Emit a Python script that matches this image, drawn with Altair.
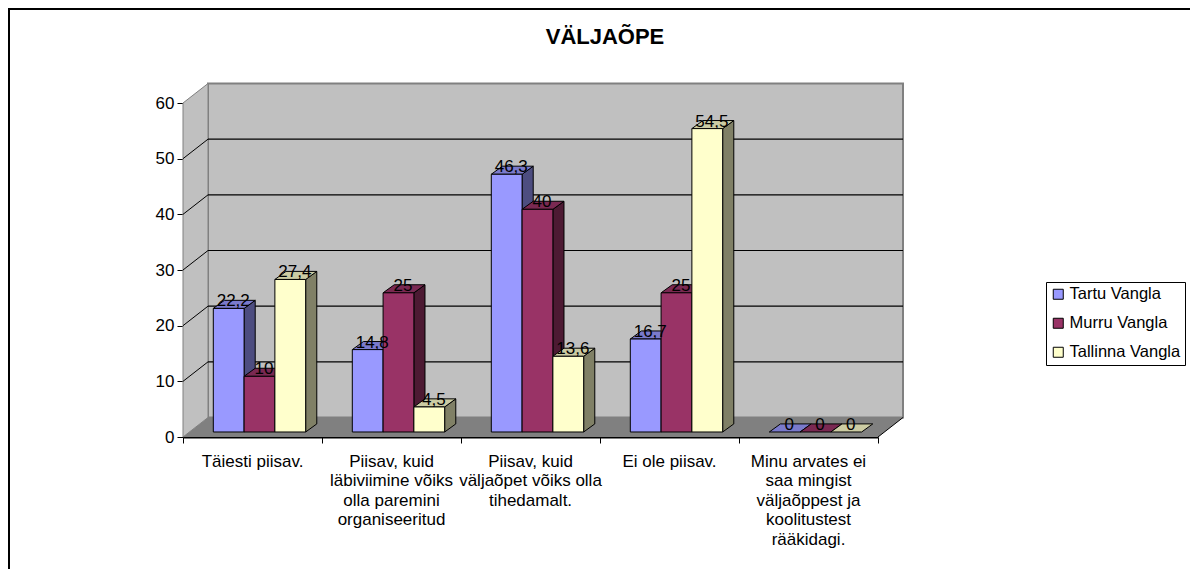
import altair as alt
import pandas as pd

categories = ["Täiesti piisav.",
              "Piisav, kuid\nläbiviimine võiks\nolla paremini\norganiseeritud",
              "Piisav, kuid\nväljaõpet võiks olla\ntihedamalt.",
              "Ei ole piisav.",
              "Minu arvates ei\nsaa mingist\nväljaõppest ja\nkoolitustest\nrääkidagi."]
series = ["Tartu Vangla", "Murru Vangla", "Tallinna Vangla"]
tartu = [22.2, 14.8, 46.3, 16.7, 0]
murru = [10, 25, 40, 25, 0]
tallinn = [27.4, 4.5, 13.6, 54.5, 0]
y_ticks = [0, 10, 20, 30, 40, 50, 60]
front_colors = ["#9999FF", "#993366", "#FFFFCC"]
side_colors = ["#4D4D80", "#4D1A33", "#808066"]
top_colors = ["#7A7ACC", "#7A2952", "#CCCCA3"]

W, H = 1182, 561
FONT = "Liberation Sans"
PX_X = [175, 870]
PX_Y = [429, 95]
wall_dx, wall_dy = 25 / 139, 3.5
bar_base = 0.9
bar_start, bar_w = 0.218, 0.2215
bar_dx, bar_dy = 0.08, 1.45

xs = alt.Scale(domain=[0, 5], range=PX_X)
ys = alt.Scale(domain=[0, 60], range=PX_Y)
x_axis = alt.Axis(title=None, values=[0, 1, 2, 3, 4, 5], labels=False, orient="bottom",
                  offset=429 - H, tickSize=6, tickColor="black", domainColor="black",
                  domainWidth=2, tickWidth=1, grid=False)
y_axis = alt.Axis(title=None, values=y_ticks, orient="left", offset=-175, tickSize=6,
                  tickColor="black", domainColor="black", domainWidth=1, tickWidth=1,
                  labelFont=FONT, labelFontSize=17, labelColor="black",
                  labelPadding=3, grid=False, format="d")
X = lambda f="x": alt.X(f"{f}:Q", scale=xs, axis=x_axis, title=None)
Y = lambda f="y": alt.Y(f"{f}:Q", scale=ys, axis=y_axis, title=None)

fronts, sides, tops, labels = [], [], [], []
for s_i, (s, vals) in enumerate(zip(series, [tartu, murru, tallinn])):
    for c_i, v in enumerate(vals):
        x0 = c_i + bar_start + s_i * bar_w
        x1 = x0 + bar_w
        lo = bar_base
        hi = bar_base + v
        pid = f"{s_i}-{c_i}"
        fronts.append(dict(series=s, x=x0, x2=x1, y=lo, y2=hi))
        if v > 0:
            sides += [dict(id=pid, col=side_colors[s_i], x=x1, y=lo, y2=hi),
                      dict(id=pid, col=side_colors[s_i], x=x1 + bar_dx, y=lo + bar_dy, y2=hi + bar_dy)]
        tops += [dict(id=pid, col=top_colors[s_i], y=hi, x=x0, x2=x1),
                 dict(id=pid, col=top_colors[s_i], y=hi + bar_dy, x=x0 + bar_dx, x2=x1 + bar_dx)]
        labels.append(dict(x=(x0 + x1 + bar_dx) / 2, y=hi + bar_dy, t=str(v).replace(".", ",")))

df_front = pd.DataFrame(fronts)
df_front = df_front[df_front.y2 > df_front.y + 0.01]
df_side, df_top, df_lab = pd.DataFrame(sides), pd.DataFrame(tops), pd.DataFrame(labels)

back = alt.Chart(pd.DataFrame([dict(x=wall_dx, x2=5 + wall_dx, y=wall_dy, y2=60 + wall_dy)])).mark_rect(
    fill="#C0C0C0", stroke="#808080", strokeWidth=2).encode(X(), x2="x2:Q", y=Y(), y2="y2:Q")
left = alt.Chart(pd.DataFrame([dict(x=0, y=0, y2=60), dict(x=wall_dx, y=wall_dy, y2=60 + wall_dy)])).mark_area(
    fill="#C0C0C0", stroke="#808080", strokeWidth=1, orient="vertical").encode(X(), y=Y(), y2="y2:Q")
floor = alt.Chart(pd.DataFrame([dict(y=0, x=0, x2=5), dict(y=wall_dy, x=wall_dx, x2=5 + wall_dx)])).mark_area(
    fill="#808080", orient="horizontal").encode(X(), x2="x2:Q", y=Y())

gd = pd.DataFrame([dict(x=wall_dx, x2=5 + wall_dx, y=v + wall_dy) for v in y_ticks[1:-1]])
grid = alt.Chart(gd).mark_rule(color="black", strokeWidth=1.2).encode(X(), x2="x2:Q", y=Y())
gdiag = pd.DataFrame([r for v in y_ticks for r in
                      (dict(id=v, x=0, y=v), dict(id=v, x=wall_dx, y=v + wall_dy))])
diag = alt.Chart(gdiag[gdiag.id.between(1, 59)]).mark_line(color="black", strokeWidth=1).encode(X(), Y(), detail="id:N")
fr_line = pd.DataFrame([dict(id=0, x=5, y=0), dict(id=0, x=5 + wall_dx, y=wall_dy)])
floor_edge = alt.Chart(fr_line).mark_line(color="black", strokeWidth=1).encode(X(), Y(), detail="id:N")

side_l = alt.Chart(df_side).mark_area(stroke="black", strokeWidth=1, orient="vertical").encode(
    X(), y=Y(), y2="y2:Q", detail="id:N", fill=alt.Fill("col:N", scale=None))
top_l = alt.Chart(df_top).mark_area(stroke="black", strokeWidth=1, orient="horizontal").encode(
    X(), x2="x2:Q", y=Y(), detail="id:N", fill=alt.Fill("col:N", scale=None))
front_l = alt.Chart(df_front).mark_rect(stroke="black", strokeWidth=1).encode(
    X(), x2="x2:Q", y=Y(), y2="y2:Q",
    fill=alt.Fill("series:N", scale=alt.Scale(domain=series, range=front_colors),
                  legend=alt.Legend(title=None, orient="none", legendX=1038, legendY=274,
                                    fillColor="white", strokeColor="black", padding=4,
                                    symbolType="square", symbolSize=100, symbolStrokeColor="black",
                                    symbolStrokeWidth=1, symbolOpacity=1, labelFontSize=16.5,
                                    labelFont=FONT, labelColor="black", rowPadding=12,
                                    labelOffset=3, values=series)))

lab_l = alt.Chart(df_lab).mark_text(font=FONT, fontSize=17, color="black", baseline="middle", dx=-1, dy=1).encode(
    X(), Y(), text="t:N")

cat_df = pd.DataFrame([dict(x=i + 0.5, t=c) for i, c in enumerate(categories)])
cat_l = alt.Chart(cat_df).mark_text(font=FONT, fontSize=17, color="black", lineBreak="\n",
                                    lineHeight=19.6, baseline="top", align="center").encode(
    X(), y=alt.value(445.5), text="t:N")

frame = alt.Chart(pd.DataFrame([dict(a=0)])).mark_rule(color="black", strokeWidth=2)
f1 = frame.encode(x=alt.value(0), x2=alt.value(W), y=alt.value(1))
f2 = frame.encode(x=alt.value(1), y=alt.value(0), y2=alt.value(H))

chart = alt.layer(back, left, floor, grid, diag, floor_edge, side_l, top_l, front_l, lab_l, cat_l, f1, f2).properties(
    width=W, height=H, padding=0, autosize=alt.AutoSizeParams(type="none"),
    title=alt.TitleParams("VÄLJAÕPE", font=FONT, fontSize=22, fontWeight="bold", color="black",
                          anchor="middle", dy=46, dx=6),
).configure_view(stroke=None).configure(background="white")
chart.save("out.html", embed_options={"renderer": "svg", "actions": False})
